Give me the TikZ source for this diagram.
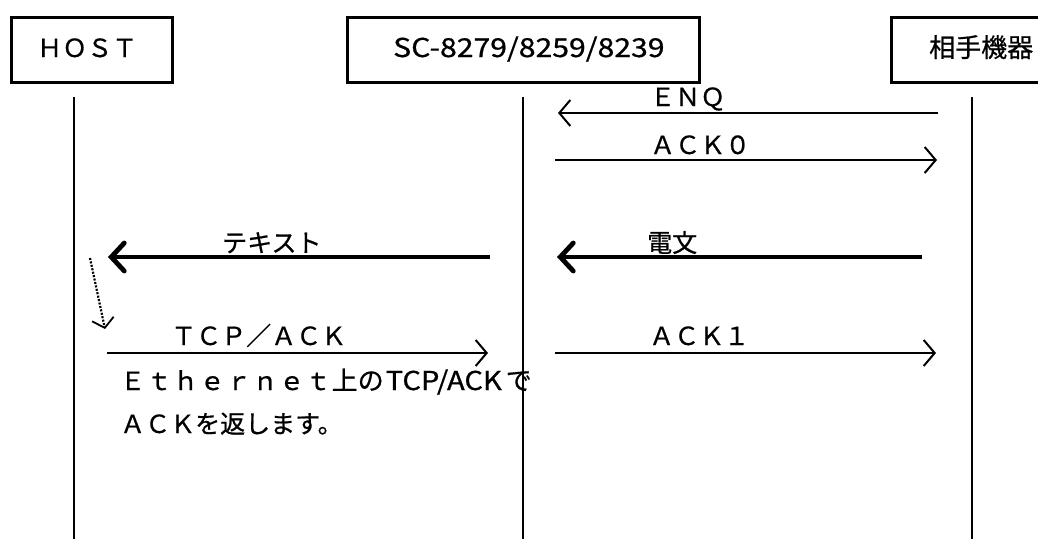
\documentclass[tikz,border=0pt]{standalone}
\usepackage{fontspec}
\setmainfont{Noto Sans CJK JP}[RawFeature={embolden=0.7}]
\usetikzlibrary{arrows.meta}
\tikzset{
  actor/.style={draw, line width=2.6pt, minimum height=65pt, inner sep=0pt, anchor=north west},
  life/.style={line width=2.3pt},
  msg/.style={line width=2pt, -{Straight Barb[length=11pt,width=26pt,line width=2pt]}},
  bigmsg/.style={line width=4.8pt, -{Straight Barb[length=13pt,width=28pt,line width=4.8pt, line cap=round]}},
  lbl/.style={anchor=base west, inner sep=0pt, font=\fontsize{25pt}{30pt}\selectfont},
}
\begin{document}
\begin{tikzpicture}[x=1pt,y=-1pt]
\useasboundingbox (0,0) rectangle (1038,539);
% actor boxes
\node[actor, minimum width=161pt] (host) at (10,16) {};
\node[actor, minimum width=352pt] (sc) at (346,16) {};
\node[actor, minimum width=160pt] (peer) at (890,16) {};
\node[lbl] (hostt) at (37,57) {ＨＯＳＴ};
\node[lbl] (sct) at (393,57) {\scalebox{1.16}[1]{\fontsize{26pt}{30pt}\selectfont SC-8279/8259/8239}};
\node[lbl] (peert) at (929,57) {\fontsize{26pt}{30pt}\selectfont 相手機器};
% lifelines
\coordinate (h1) at (74,97);  \coordinate (h2) at (74,539);
\coordinate (s1) at (523,97); \coordinate (s2) at (523,539);
\coordinate (p1) at (972,97); \coordinate (p2) at (972,539);
\draw[life] (h1) -- (h2);
\draw[life] (s1) -- (s2);
\draw[life] (p1) -- (p2);
% ENQ
\coordinate (enqA) at (938,113); \coordinate (enqB) at (558,113);
\draw[msg] (enqA) -- (enqB);
\node[lbl] (enq) at (650,106) {ＥＮＱ};
% ACK0
\coordinate (ack0A) at (555,160); \coordinate (ack0B) at (937,160);
\draw[msg] (ack0A) -- (ack0B);
\node[lbl] (ack0) at (650,154) {ＡＣＫ０};
% 電文
\coordinate (denA) at (922,257); \coordinate (denB) at (557,257);
\draw[bigmsg] (denA) -- (denB);
\node[lbl] (den) at (647,252) {電文};
% テキスト
\coordinate (txtA) at (490,257); \coordinate (txtB) at (108,257);
\draw[bigmsg] (txtA) -- (txtB);
\node[lbl] (txt) at (222,252) {テキスト};
% dotted
\coordinate (dotA) at (90,258); \coordinate (dotB) at (105,329);
\draw[line width=2.2pt, dash pattern=on 2pt off 1.5pt, -{Straight Barb[length=9pt,width=22pt,line width=1.8pt]}] (dotA) -- (dotB);
% TCP/ACK
\coordinate (tcpA) at (107,353); \coordinate (tcpB) at (488,353);
\draw[msg] (tcpA) -- (tcpB);
\node[lbl] (tcp) at (171,345) {ＴＣＰ／ＡＣＫ};
% ACK1
\coordinate (ack1A) at (555,353); \coordinate (ack1B) at (936,353);
\draw[msg] (ack1A) -- (ack1B);
\node[lbl] (ack1) at (649,345) {ＡＣＫ１};
% notes
\node[lbl] (note1) at (120,390) {Ｅ\hspace{1.5pt}ｔ\hspace{1.5pt}ｈ\hspace{1.5pt}ｅ\hspace{1.5pt}ｒ\hspace{1.5pt}ｎ\hspace{1.5pt}ｅ\hspace{1.5pt}ｔ\hspace{1pt}\fontsize{26pt}{30pt}\selectfont 上の\hspace{2pt}\scalebox{1.12}[1]{TCP/ACK}\hspace{4pt}で};
\node[lbl] (note2) at (120,433) {ＡＣＫを返します。};
\end{tikzpicture}
\end{document}
